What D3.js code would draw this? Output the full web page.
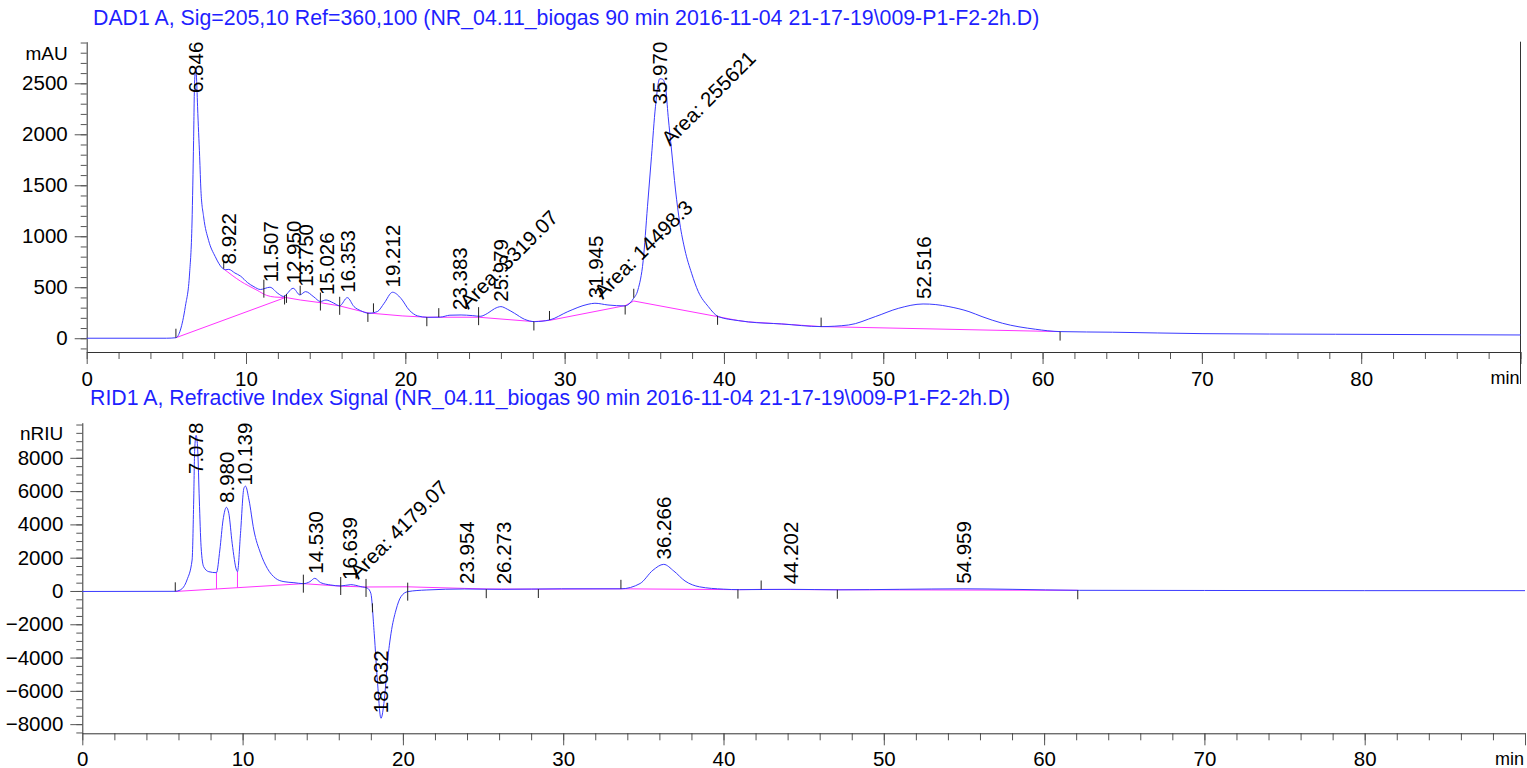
<!DOCTYPE html>
<html>
<head>
<meta charset="utf-8">
<script src="https://cdn.jsdelivr.net/npm/d3@7"></script>
<style>
  body { margin: 0; background: #fff; }
  svg text { font-family: "Liberation Sans", Arial, sans-serif; }
</style>
</head>
<body>
<svg id="chart" width="1527" height="768"></svg>
<script>
// ---- data ----
var timeTicks = [0, 10, 20, 30, 40, 50, 60, 70, 80, 90];

var dadTitle = "DAD1 A, Sig=205,10 Ref=360,100 (NR_04.11_biogas 90 min 2016-11-04 21-17-19\\009-P1-F2-2h.D)";
var dadYTicks = [0, 500, 1000, 1500, 2000, 2500];
// [min, mAU]
var dadTrace = [
  [0, 0], [5.0, 0], [5.6, 5], [5.88, 80], [6.19, 310], [6.46, 640], [6.61, 1130], [6.71, 1940],
  [6.77, 2500], [6.85, 2650], [6.92, 2450], [6.96, 2270], [7.09, 1780], [7.17, 1450], [7.34, 1190],
  [7.65, 960], [8.07, 800], [8.5, 690], [8.7, 672], [8.92, 675], [9.3, 640], [9.65, 610], [10.1, 545],
  [10.5, 505], [10.9, 478], [11.5, 500], [12.0, 440], [12.35, 410], [12.96, 490], [13.38, 425],
  [13.74, 457], [14.26, 405], [14.67, 360], [15.02, 375], [15.5, 345], [15.88, 318], [16.36, 398],
  [16.78, 310], [17.2, 270], [17.72, 245], [18.25, 262], [18.67, 343], [19.2, 451], [19.72, 392],
  [20.24, 277], [20.77, 219], [21.4, 205], [22.2, 207], [22.8, 226], [23.5, 228], [24.2, 222],
  [24.7, 215], [25.17, 245], [25.6, 290], [26.0, 310], [26.4, 285], [26.85, 245], [27.48, 186],
  [28.11, 163], [29.05, 179], [30.2, 261], [31.47, 333], [31.9, 343], [32.72, 326], [33.77, 317],
  [34.3, 385], [34.6, 474], [34.93, 760], [35.2, 1290], [35.45, 1780], [35.7, 2270], [35.97, 2545],
  [36.15, 2540], [36.33, 2467], [36.5, 2173], [36.71, 1846], [36.96, 1454], [37.23, 1127],
  [37.55, 866], [37.97, 637], [38.39, 457], [39.02, 310], [39.65, 212], [40.9, 173], [41.53, 160],
  [43.63, 140], [46.1, 114], [47.83, 130], [49.5, 212], [50.97, 294], [52.5, 336], [53.3, 330],
  [54.12, 310], [55.38, 261], [56.2, 212], [57.48, 147], [59.56, 88], [61.1, 65], [64.4, 59],
  [70.07, 45], [78.4, 39], [90, 32]
];
// straight integration baselines
var dadBaseline = [
  [[5.6, 5], [12.48, 400]],
  [[12.48, 400], [13.4, 375], [14.67, 349], [15.88, 317], [17.65, 248], [19.8, 219], [21.35, 206],
   [24.6, 206], [28.07, 163], [29.05, 175], [33.8, 320], [34.34, 365], [39.6, 212]],
  [[39.6, 212], [40.9, 173], [41.53, 160], [43.63, 140], [46.1, 114], [61.1, 65]]
];
// tangent skim under the tail of the first peak
var dadSkim = [[8.6, 680], [9.65, 560], [10.7, 470], [11.3, 420], [11.8, 404], [12.48, 400]];
// integration marks [min, side]: -1 above trace, 1 below, 0 across
var dadMarks = [[5.6, -1], [8.6, -1], [11.12, 0], [12.42, 1], [12.54, 1], [13.4, -1], [14.67, 0],
  [15.88, 0], [17.65, 1], [18.0, -1], [21.35, 1], [22.1, -1], [24.6, 0], [28.07, 1], [29.05, -1],
  [33.8, 1], [34.34, -1], [39.6, 1], [46.1, -1], [61.1, 1]];
var dadPeaks = ["6.846", "8.922", "11.507", "12.950", "13.750", "15.026", "16.353", "19.212",
  "23.383", "25.979", "31.945", "35.970", "52.516"];
var dadAreas = [["Area: 3319.07", 23.95, 277], ["Area: 14498.3", 32.4, 376], ["Area: 255621", 36.62, 1878]];

var ridTitle = "RID1 A, Refractive Index Signal (NR_04.11_biogas 90 min 2016-11-04 21-17-19\\009-P1-F2-2h.D)";
var ridYTicks = [-8000, -6000, -4000, -2000, 0, 2000, 4000, 6000, 8000];
// [min, nRIU]
var ridTrace = [
  [0, -30], [5.8, -20], [6.11, 60], [6.53, 660], [6.85, 1860], [6.95, 5465], [7.01, 8470], [7.1, 9350],
  [7.2, 8470], [7.3, 5465], [7.41, 2660], [7.57, 1460], [7.89, 1160], [8.37, 1100], [8.58, 2460],
  [8.78, 4260], [8.99, 5025], [9.14, 4665], [9.35, 2865], [9.62, 1260], [9.68, 1160], [9.87, 3465],
  [10.08, 6170], [10.18, 6300], [10.4, 5465], [10.7, 3665], [11.12, 2265], [11.54, 1360],
  [12.06, 760], [12.58, 560], [13.2, 500], [13.79, 440], [14.2, 560], [14.5, 760], [14.87, 500],
  [15.5, 360], [16.12, 300], [16.75, 380], [17.38, 260], [17.8, 160], [18.0, -140], [18.21, -2540],
  [18.42, -5545], [18.63, -7650], [18.84, -6545], [19.05, -4145], [19.26, -2540], [19.57, -1140],
  [19.88, -340], [20.3, -40], [21.45, 60], [23.84, 120], [26.14, 100], [29.9, 130], [33.6, 130],
  [34.8, 450], [35.6, 1250], [36.27, 1600], [36.9, 1200], [37.6, 600], [38.5, 250], [40.0, 110],
  [41.0, 80], [44.2, 100], [47.2, 70], [51.0, 100], [55.0, 130], [58.0, 100], [62.2, 40],
  [70, 30], [80, 20], [90, 20]
];
var ridBaseline = [
  [[5.8, -30], [13.79, 440], [16.12, 290], [17.7, 240], [20.3, 250], [25.2, 120], [28.45, 110],
   [33.6, 130], [41.0, 80], [42.35, 95], [47.1, 75], [62.1, 40]]
];
var ridDrops = [8.37, 9.68];
var ridMarks = [[5.8, -1], [13.79, 0], [16.12, 0], [17.7, 0], [18.1, -1], [20.3, 0], [25.2, 1],
  [28.45, 1], [33.6, -1], [40.9, 1], [42.35, -1], [47.1, 1], [62.1, 1]];
var ridPeaks = ["7.078", "8.980", "10.139", "14.530", "16.639", "18.632", "23.954", "26.273",
  "36.266", "44.202", "54.959"];
var ridAreas = [["Area: 4179.07", 17.22, 660]];

// ---- layout ----
var panels = [
  { title: dadTitle, unit: "mAU", trace: dadTrace, base: dadBaseline, skim: [dadSkim], drops: [],
    marks: dadMarks, peaks: dadPeaks, areas: dadAreas, yTicks: dadYTicks, yMinorStep: 100,
    yDomain: [-135, 2908], left: 86.7, right: 1520.5, top: 41.7, bottom: 352, titleX: 93, titleY: 25,
    unitY: 60, xPad: 7, endLine: true },
  { title: ridTitle, unit: "nRIU", trace: ridTrace, base: ridBaseline, skim: [], drops: ridDrops,
    marks: ridMarks, peaks: ridPeaks, areas: ridAreas, yTicks: ridYTicks, yMinorStep: 500,
    yDomain: [-8550, 10110], left: 82.3, right: 1525, top: 422.7, bottom: 733.3, titleX: 90, titleY: 405,
    unitY: 440, xPad: 6, endLine: false }
];

var svg = d3.select("#chart");
svg.append("rect").attr("width", 1527).attr("height", 768).attr("fill", "#fff");

function valueAt(pts, t) {
  var i = d3.bisector(function(d) { return d[0]; }).left(pts, t);
  if (i <= 0) return pts[0][1];
  if (i >= pts.length) return pts[pts.length - 1][1];
  var a = pts[i - 1], b = pts[i];
  return a[1] + (b[1] - a[1]) * (t - a[0]) / (b[0] - a[0]);
}

panels.forEach(function(p) {
  var x = d3.scaleLinear().domain([0, 90]).range([p.left, p.right]);
  var y = d3.scaleLinear().domain(p.yDomain).range([p.bottom, p.top]);
  var g = svg.append("g");

  g.append("text").text(p.title)
    .attr("x", p.titleX).attr("y", p.titleY)
    .attr("fill", "#1f1fff").style("font-size", "21.3px");

  // x axis: minor every 2 min, major every 10
  g.append("g").attr("transform", "translate(0," + p.bottom + ")")
    .call(d3.axisBottom(x).tickValues(d3.range(0, 91, 2)).tickSize(7).tickFormat(""))
    .call(function(a) { a.select(".domain").remove(); });
  g.append("g").attr("transform", "translate(0," + p.bottom + ")")
    .call(d3.axisBottom(x).tickValues(timeTicks).tickSize(12).tickSizeOuter(0).tickPadding(p.xPad)
      .tickFormat(function(d) { return d === 90 ? "" : d; }))
    .call(function(a) {
      a.selectAll("text").style("font-size", "20.5px").attr("fill", "#000");
      a.select(".domain").attr("stroke", "#333");
    });
  g.append("text").text("min")
    .attr("x", p.right - 1).attr("y", p.bottom + 32)
    .attr("text-anchor", "end").attr("fill", "#000").style("font-size", "18px");
  if (p.endLine) {
    g.append("line").attr("x1", p.right).attr("x2", p.right)
      .attr("y1", p.top).attr("y2", p.bottom + 32).attr("stroke", "#333");
  }

  // y axis
  g.append("g").attr("transform", "translate(" + p.left + ",0)")
    .call(d3.axisLeft(y).tickValues(d3.range(Math.ceil(p.yDomain[0] / p.yMinorStep) * p.yMinorStep,
      p.yDomain[1], p.yMinorStep)).tickSize(6).tickFormat(""))
    .call(function(a) { a.select(".domain").remove(); });
  g.append("g").attr("transform", "translate(" + p.left + ",0)")
    .call(d3.axisLeft(y).tickValues(p.yTicks).tickSize(12).tickSizeOuter(0).tickPadding(7)
      .tickFormat(d3.format("d")))
    .call(function(a) {
      a.selectAll("text").style("font-size", "20.5px").attr("fill", "#000");
      a.select(".domain").attr("stroke", "#333");
    });
  g.selectAll(".tick line").attr("stroke", "#555");
  g.append("text").text(p.unit)
    .attr("x", p.left - 19).attr("y", p.unitY)
    .attr("text-anchor", "end").attr("fill", "#000").style("font-size", "19px");

  // integration baseline
  var line = d3.line().x(function(d) { return x(d[0]); }).y(function(d) { return y(d[1]); });
  g.selectAll(".base").data(p.base).enter().append("path")
    .attr("d", line)
    .attr("fill", "none").attr("stroke", "#ff33ff").attr("stroke-width", 1);
  var skimLine = d3.line().x(function(d) { return x(d[0]); }).y(function(d) { return y(d[1]); })
    .curve(d3.curveMonotoneX);
  g.selectAll(".skim").data(p.skim).enter().append("path")
    .attr("d", skimLine)
    .attr("fill", "none").attr("stroke", "#ff33ff").attr("stroke-width", 1);
  p.drops.forEach(function(t) {
    g.append("line")
      .attr("x1", x(t)).attr("x2", x(t))
      .attr("y1", y(valueAt(p.base[0], t))).attr("y2", y(valueAt(p.trace, t)))
      .attr("stroke", "#ff33ff");
  });

  // signal
  g.append("path").datum(p.trace)
    .attr("d", d3.line().x(function(d) { return x(d[0]); }).y(function(d) { return y(d[1]); })
      .curve(d3.curveMonotoneX))
    .attr("fill", "none").attr("stroke", "#3a3aff").attr("stroke-width", 1);

  // peak start / end marks
  p.marks.forEach(function(m) {
    var yt = y(valueAt(p.trace, m[0]));
    var y1 = m[1] > 0 ? yt : yt - 9, y2 = m[1] < 0 ? yt : yt + 9;
    g.append("line").attr("x1", x(m[0])).attr("x2", x(m[0]))
      .attr("y1", y1).attr("y2", y2).attr("stroke", "#222");
  });

  // retention time labels
  p.peaks.forEach(function(lab) {
    var t = +lab;
    var txt = g.append("text").text(lab)
      .attr("dominant-baseline", "central").attr("fill", "#000").style("font-size", "20.5px");
    var len = txt.node().getComputedTextLength();
    var yb = Math.max(y(valueAt(p.trace, t)) - 5, p.top + len);
    txt.attr("transform", "translate(" + x(t) + "," + yb + ") rotate(-90)");
  });

  p.areas.forEach(function(a) {
    g.append("text").text(a[0])
      .attr("transform", "translate(" + x(a[1]) + "," + y(a[2]) + ") rotate(-45)")
      .attr("fill", "#000").style("font-size", "20.5px");
  });
});
</script>
</body>
</html>
